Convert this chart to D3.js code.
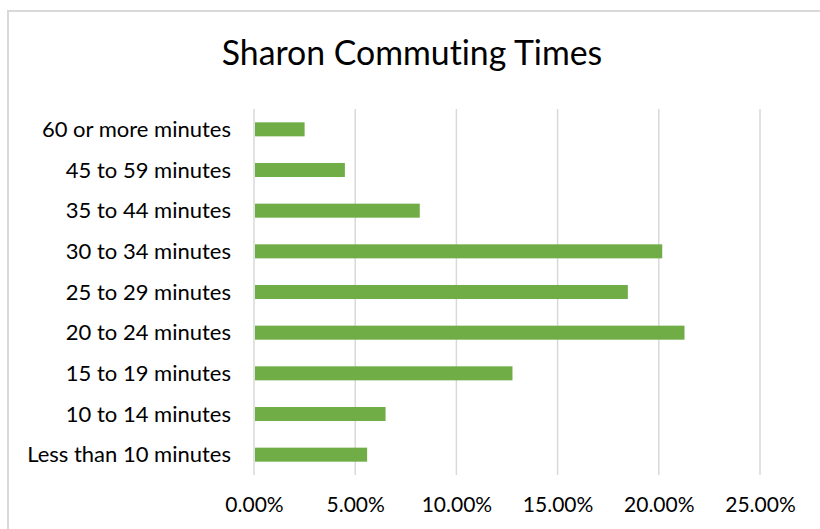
<!DOCTYPE html>
<html>
<head>
<meta charset="utf-8">
<script src="https://cdn.jsdelivr.net/npm/d3@7"></script>
<style>
  html, body { margin: 0; padding: 0; background: #fff; }
  svg { display: block; }
  text { font-family: Lato, "Noto Sans", sans-serif; font-variant-ligatures: none; font-feature-settings: "liga" 0; }
</style>
</head>
<body>
<div id="chart"></div>
<script>
const title = "Sharon Commuting Times";
const categories = [
  "Less than 10 minutes",
  "10 to 14 minutes",
  "15 to 19 minutes",
  "20 to 24 minutes",
  "25 to 29 minutes",
  "30 to 34 minutes",
  "35 to 44 minutes",
  "45 to 59 minutes",
  "60 or more minutes"
];
const values = [0.0559, 0.065, 0.1277, 0.2127, 0.1847, 0.2017, 0.0819, 0.0449, 0.025];
const xTicks = [0, 0.05, 0.10, 0.15, 0.20, 0.25];

const W = 820, H = 529;
const svg = d3.select("#chart").append("svg").attr("width", W).attr("height", H);
svg.append("rect").attr("width", W).attr("height", H).attr("fill", "#fff");

// chart frame
svg.append("rect")
  .attr("x", 8).attr("y", 11).attr("width", 830).attr("height", 540)
  .attr("fill", "#fff").attr("stroke", "#d9d9d9").attr("stroke-width", 2);

const plot = { left: 254, right: 760, top: 109, bottom: 475 };

const x = d3.scaleLinear().domain([0, 0.25]).range([plot.left, plot.right]);
const y = d3.scaleBand()
  .domain(categories.slice().reverse())
  .range([plot.top, plot.bottom])
  .paddingInner(0.655).paddingOuter(0.3275);

// gridlines
svg.append("g")
  .selectAll("line").data(xTicks).join("line")
  .attr("x1", d => x(d)).attr("x2", d => x(d))
  .attr("y1", plot.top).attr("y2", plot.bottom)
  .attr("stroke", "#d9d9d9").attr("stroke-width", 1.5);

// bars
svg.append("g")
  .selectAll("rect").data(categories).join("rect")
  .attr("x", x(0) + 1)
  .attr("y", d => y(d))
  .attr("width", (d, i) => x(values[i]) - x(0) - 1)
  .attr("height", y.bandwidth())
  .attr("fill", "#70ad47");

// y axis labels
const yAxis = svg.append("g")
  .attr("transform", `translate(${plot.left - 23},0)`)
  .call(d3.axisLeft(y).tickSize(0).tickPadding(0));
yAxis.select(".domain").remove();
yAxis.selectAll("text")
  .attr("font-family", "Lato, 'Noto Sans', sans-serif")
  .attr("font-size", 22).attr("fill", "#000").attr("dy", "0.35em");

// x axis labels
const xAxis = svg.append("g")
  .attr("transform", `translate(0,${plot.bottom})`)
  .call(d3.axisBottom(x).tickValues(xTicks).tickFormat(d3.format(".2%")).tickSize(0).tickPadding(0));
xAxis.select(".domain").remove();
xAxis.selectAll("text")
  .attr("font-family", "Lato, 'Noto Sans', sans-serif")
  .attr("font-size", 21).attr("fill", "#000")
  .attr("y", 30).attr("dy", "0.35em");

// title
svg.append("text")
  .attr("x", 412).attr("y", 65)
  .attr("text-anchor", "middle")
  .attr("font-size", 33.8).attr("fill", "#000")
  .text(title);
</script>
</body>
</html>
